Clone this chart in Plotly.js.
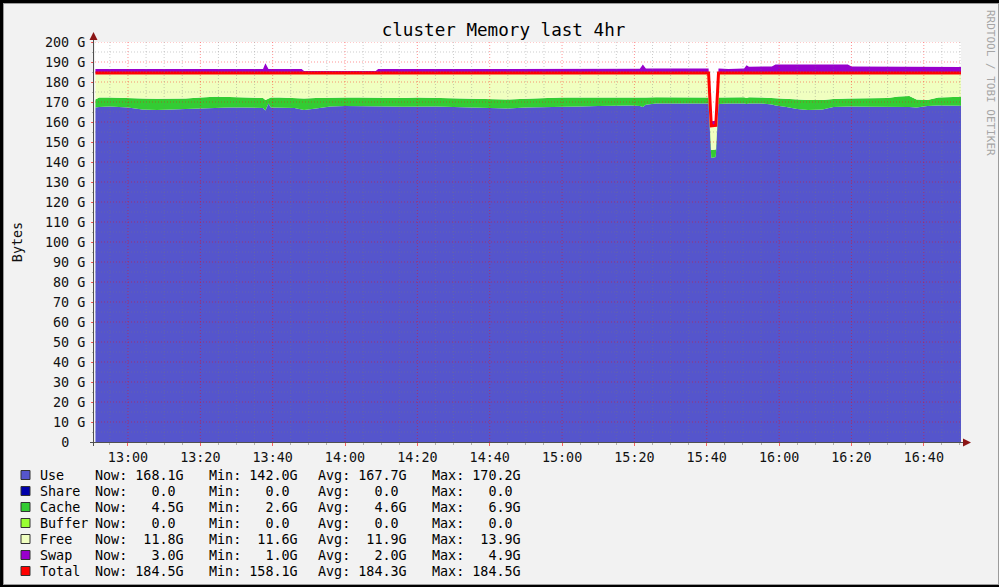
<!DOCTYPE html>
<html><head><meta charset="utf-8">
<script src="https://cdn.plot.ly/plotly-3.0.1.min.js"></script>
<style>
html,body{margin:0;padding:0;background:#000;width:999px;height:587px;overflow:hidden}
#frame{position:absolute;left:3px;top:3px;width:996px;height:582px;box-sizing:border-box;border:1px solid #9c9c9c;background:#f2f2f2}
#chart{position:absolute;left:0;top:0;width:994px;height:580px}
</style></head><body><div id="frame"><div id="chart"></div></div>
<script>
// ---- data (GB) ----
const times = ["12:51:00","12:52:00","12:55:00","13:00:00","13:04:00","13:08:00","13:12:00","13:16:00","13:20:00","13:24:00",
"13:28:00","13:32:00","13:36:00","13:37:20","13:38:00","13:38:50","13:39:30","13:42:00","13:46:00","13:48:00",
"13:48:40","13:52:00","13:56:00","14:00:00","14:04:00","14:08:30","14:09:10","14:12:00","14:16:00","14:20:00",
"14:25:00","14:30:00","14:35:00","14:40:00","14:45:00","14:50:00","14:55:00","15:00:00","15:05:00","15:10:00",
"15:15:00","15:19:00","15:21:30","15:22:20","15:23:10","15:26:00","15:30:00","15:34:00","15:38:00","15:40:30",
"15:41:15","15:42:30","15:43:15","15:46:00","15:50:20","15:51:00","15:51:40","15:55:00","15:58:00","15:59:00",
"16:02:00","16:05:00","16:08:00","16:12:00","16:15:00","16:19:00","16:20:00","16:25:00","16:30:00","16:33:00",
"16:36:00","16:38:00","16:41:00","16:44:00","16:47:00","16:50:30"];

const useVals = [167.3,167.5,167.7,167.3,166.2,166.0,166.2,166.5,166.8,167.0,
167.2,167.3,167.3,167.0,165.8,169.2,167.3,167.3,167.0,166.2,
166.0,166.8,167.8,168.0,168.0,167.8,167.8,167.8,167.6,167.8,
167.8,167.5,167.2,167.0,166.8,167.2,167.5,167.8,167.8,168.0,
168.2,168.2,168.0,167.5,168.6,169.2,169.3,169.2,169.3,169.2,
142.0,142.5,169.0,169.3,169.2,169.0,169.3,169.3,168.8,168.3,
167.5,166.5,166.0,166.2,167.5,167.7,167.7,167.6,167.5,167.8,
167.5,167.3,168.0,168.2,168.1,168.1];

const cacheVals = [4.0,4.8,4.6,4.9,5.6,5.6,5.4,5.3,5.4,5.6,
5.3,4.9,4.7,5.0,5.2,2.6,4.9,4.9,5.0,5.6,
5.8,5.2,4.4,4.3,4.2,4.2,4.2,4.4,4.4,4.4,
4.2,4.3,4.6,4.5,4.5,4.4,4.5,4.4,4.5,4.3,
4.1,4.1,4.3,4.5,3.7,3.2,3.0,3.2,3.0,3.1,
4.0,3.8,3.2,3.0,3.2,3.0,3.1,3.0,3.2,3.4,
4.0,4.7,5.0,4.8,4.0,4.0,4.0,4.2,4.5,5.0,
5.5,3.9,3.0,4.1,4.2,4.5];

const freeVals = [13.2,12.2,12.2,12.3,12.7,12.9,12.9,12.7,12.3,11.9,
12.0,12.3,12.5,12.5,13.5,12.7,12.3,12.3,12.5,12.7,
12.7,12.5,12.3,12.2,12.3,12.5,12.5,12.3,12.5,12.3,
12.5,12.7,12.7,13.0,13.2,12.9,12.5,12.3,12.2,12.2,
12.2,12.2,12.2,12.5,12.2,12.1,12.2,12.1,12.2,12.2,
12.1,12.0,12.3,12.2,12.1,12.5,12.1,12.2,12.5,12.8,
13.0,13.3,13.5,13.5,13.0,12.8,12.8,12.7,12.5,11.7,
11.5,13.3,13.5,12.2,12.2,11.9];

const swapVals = [2.0,2.0,2.0,2.0,2.0,2.0,2.0,2.0,2.0,2.0,
2.0,2.0,2.0,2.0,4.9,2.0,2.0,2.0,2.0,2.0,
1.0,1.0,1.0,1.0,1.0,1.0,2.0,2.0,2.0,2.0,
2.0,2.0,2.0,2.0,2.0,2.0,2.0,2.0,2.0,2.0,
2.0,2.0,2.1,4.3,2.3,2.3,2.3,2.3,2.3,2.3,
2.3,2.3,2.2,2.0,2.2,3.9,3.1,3.1,3.3,4.3,
4.2,4.2,4.2,4.2,4.2,4.2,3.3,3.2,3.2,3.2,
3.2,3.2,3.2,3.1,3.0,3.0];

const totalVals = [184.5,184.5,184.5,184.5,184.5,184.5,184.5,184.5,184.5,184.5,
184.5,184.5,184.5,184.5,184.5,184.5,184.5,184.5,184.5,184.5,
184.5,184.5,184.5,184.5,184.5,184.5,184.5,184.5,184.5,184.5,
184.5,184.5,184.5,184.5,184.5,184.5,184.5,184.5,184.5,184.5,
184.5,184.5,184.5,184.5,184.5,184.5,184.5,184.5,184.5,184.5,
158.1,158.3,184.5,184.5,184.5,184.5,184.5,184.5,184.5,184.5,
184.5,184.5,184.5,184.5,184.5,184.5,184.5,184.5,184.5,184.5,
184.5,184.5,184.5,184.5,184.5,184.5];

// legend statistics: Now, Min, Avg, Max (GB)
const seriesNames = ["Use","Share","Cache","Buffer","Free","Swap","Total"];
const seriesColors = ["#5555cc","#0000aa","#33cc33","#99ff33","#f0ffc0","#9900cc","#ff0000"];
const useStats = [168.1,142.0,167.7,170.2];
const shareStats = [0.0,0.0,0.0,0.0];
const cacheStats = [4.5,2.6,4.6,6.9];
const bufferStats = [0.0,0.0,0.0,0.0];
const freeStats = [11.8,11.6,11.9,13.9];
const swapStats = [3.0,1.0,2.0,4.9];
const totalStats = [184.5,158.1,184.3,184.5];
const statNames = ["Now:","Min:","Avg:","Max:"];

const yTickVals = [0,10,20,30,40,50,60,70,80,90,100,110,120,130,140,150,160,170,180,190,200];
const yTickLabels = ["0  ","10 G","20 G","30 G","40 G","50 G","60 G","70 G","80 G","90 G","100 G","110 G","120 G","130 G","140 G","150 G","160 G","170 G","180 G","190 G","200 G"];

// ---- drawing ----
const DAY = '2024-01-01 ';
const X = times.map(t => DAY + t);
const MONO = '"DejaVu Sans Mono", monospace';
const nb = s => s.replace(/ /g, '\u00a0');

// page-pixel geometry of the plot area
const PL = 95, PR = 961, PT = 42, PB = 442;
const px2x = p => (p - PL) / (PR - PL);
const py2y = p => (PB - p) / (PB - PT);

const stackDefs = [
  [useVals, seriesColors[0], 'Use'],
  [cacheVals, seriesColors[2], 'Cache'],
  [freeVals, seriesColors[4], 'Free'],
  [swapVals, seriesColors[5], 'Swap']
];
const traces = stackDefs.map(([v, c, n]) => ({
  x: X, y: v, name: n, type: 'scatter', mode: 'lines', stackgroup: 'mem',
  line: {width: 0, color: c}, fillcolor: c, hoverinfo: 'skip'
}));
traces.push({x: X, y: totalVals, name: 'Total', type: 'scatter', mode: 'lines',
  line: {color: '#ff0000', width: 3}, hoverinfo: 'skip'});

const shapes = [];
const MAJ = {color: 'rgba(255,0,0,0.42)', width: 1, dash: '1px,2px'};
const MIN = {color: 'rgba(120,120,120,0.38)', width: 1, dash: '1px,2px'};
for (let v = 5; v <= 200; v += 5) {
  shapes.push({type: 'line', layer: 'above', xref: 'paper', x0: 0, x1: 1, yref: 'y', y0: v, y1: v,
    line: v % 10 === 0 ? MAJ : MIN});
}
for (let m = 12 * 60 + 55; m <= 16 * 60 + 50; m += 5) {
  const hh = String(Math.floor(m / 60)).padStart(2, '0'), mm = String(m % 60).padStart(2, '0');
  shapes.push({type: 'line', layer: 'above', yref: 'paper', y0: 0, y1: 1, xref: 'x',
    x0: DAY + hh + ':' + mm, x1: DAY + hh + ':' + mm, line: m % 20 === 0 ? MAJ : MIN});
}
// axis lines and arrows
shapes.push({type: 'line', layer: 'above', xref: 'paper', yref: 'paper', xsizemode: 'pixel', xanchor: 0,
  x0: -1.5, x1: -1.5, ysizemode: 'pixel', yanchor: 0, y0: -4, y1: 402, line: {color: '#505050', width: 1}});
shapes.push({type: 'line', layer: 'above', xref: 'paper', yref: 'paper', xsizemode: 'pixel', xanchor: 0,
  x0: -5, x1: 872, ysizemode: 'pixel', yanchor: 0, y0: -0.5, y1: -0.5, line: {color: '#505050', width: 1}});
shapes.push({type: 'path', layer: 'above', xref: 'paper', yref: 'paper', xsizemode: 'pixel', ysizemode: 'pixel',
  xanchor: 0, yanchor: 1, path: 'M -5.5 2 L 2.5 2 L -1.5 10 Z', fillcolor: '#8b1515', line: {width: 0}});
shapes.push({type: 'path', layer: 'above', xref: 'paper', yref: 'paper', xsizemode: 'pixel', ysizemode: 'pixel',
  xanchor: 1, yanchor: 0, path: 'M 2 3.5 L 2 -4.5 L 10 -0.5 Z', fillcolor: '#8b1515', line: {width: 0}});

// legend
const allStats = [useStats, shareStats, cacheStats, bufferStats, freeStats, swapStats, totalStats];
const fmt = v => v.toFixed(1).padStart(5) + (v === 0 ? ' ' : 'G');
const annotations = [];
const statX = [95, 209, 318, 432];
const LF = {family: MONO, size: 13.4, color: '#000'};
seriesNames.forEach((n, i) => {
  const yc = 475 + 16 * i;
  shapes.push({type: 'rect', xref: 'paper', yref: 'paper', x0: px2x(21), x1: px2x(30),
    y0: py2y(yc + 4.5), y1: py2y(yc - 4.5), fillcolor: seriesColors[i], line: {color: '#333', width: 1}});
  annotations.push({xref: 'paper', yref: 'paper', x: px2x(38), y: py2y(yc), xanchor: 'left', yanchor: 'middle',
    text: nb(n), showarrow: false, font: LF});
  allStats[i].forEach((v, k) => {
    annotations.push({xref: 'paper', yref: 'paper', x: px2x(statX[k] - 2), y: py2y(yc), xanchor: 'left', yanchor: 'middle',
      text: nb(statNames[k] + ' ' + fmt(v)), showarrow: false, font: LF});
  });
});
annotations.push({xref: 'paper', yref: 'paper', x: px2x(991), y: py2y(83), xanchor: 'center', yanchor: 'middle',
  text: 'RRDTOOL / TOBI OETIKER', textangle: 90, showarrow: false,
  font: {family: MONO, size: 11, color: '#a5a5a5'}});

const TF = {family: MONO, size: 13.4, color: '#111'};
const layout = {
  width: 994, height: 580,
  margin: {l: 91, r: 37, t: 38, b: 142, pad: 0},
  paper_bgcolor: '#f2f2f2', plot_bgcolor: '#ffffff',
  showlegend: false,
  title: {text: 'cluster Memory last 4hr', font: {family: MONO, size: 17.6, color: '#000'},
    xref: 'container', x: (503.5 - 4) / 994, xanchor: 'center', yref: 'container', y: 1 - (30 - 4) / 580, yanchor: 'middle'},
  xaxis: {type: 'date', range: [DAY + '12:50:53', DAY + '16:50:17'], tickformat: '%H:%M',
    tick0: DAY + '13:00:00', dtick: 1200000, ticks: 'outside', ticklen: 3, tickcolor: 'rgba(255,0,0,0.6)',
    showgrid: false, zeroline: false, showline: false, tickfont: TF, fixedrange: true,
    minor: {tick0: DAY + '13:00:00', dtick: 300000, ticks: 'outside', ticklen: 2, tickcolor: '#b0b0b0', showgrid: false}},
  yaxis: {range: [0, 200], tickmode: 'array', tickvals: yTickVals, ticktext: yTickLabels.map(nb),
    ticks: 'outside', ticklen: 3, tickcolor: 'rgba(255,0,0,0.6)', showgrid: false, zeroline: false, showline: false,
    tickfont: TF, fixedrange: true, ticklabelstandoff: 3,
    minor: {tickmode: 'linear', tick0: 0, dtick: 5, ticks: 'outside', ticklen: 2, tickcolor: '#b0b0b0', showgrid: false},
    title: {text: 'Bytes', font: TF, standoff: 19}},
  shapes: shapes, annotations: annotations
};
Plotly.newPlot('chart', traces, layout, {staticPlot: true, displayModeBar: false});
</script></body></html>
